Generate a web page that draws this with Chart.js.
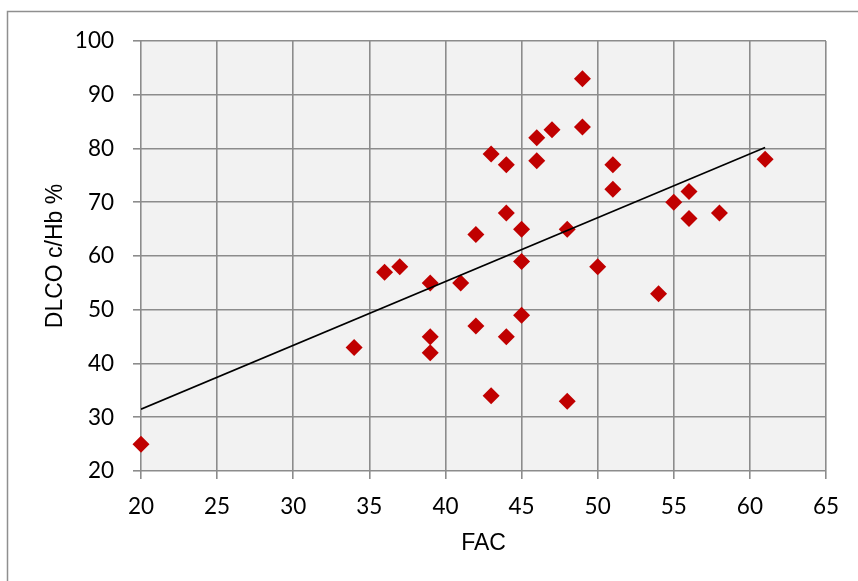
<!DOCTYPE html>
<html>
<head>
<meta charset="utf-8">
<script src="https://cdn.jsdelivr.net/npm/chart.js@4/dist/chart.umd.min.js"></script>
<style>
  html, body { margin: 0; padding: 0; background: #ffffff; }
  #wrap { width: 858px; height: 581px; position: relative; }
</style>
</head>
<body>
<div id="wrap"><canvas id="c" width="858" height="581"></canvas></div>
<script>
// FAC (%) against DLCO corrected for haemoglobin (% predicted)
const facValues = [20, 34, 36, 37, 39, 39, 39, 41, 42, 42, 43, 43, 44, 44, 44,
                   45, 45, 45, 46, 46, 47, 48, 48, 49, 49, 50, 51, 51, 54, 55, 56, 56, 58, 61];
const dlcoValues = [25, 43, 57, 58, 55, 45, 42, 55, 64, 47, 79, 34, 77, 68, 45,
                    65, 59, 49, 82, 77.7, 83.5, 65, 33, 93, 84, 58, 77, 72.4, 53, 70, 72, 67, 68, 78];
// linear trend line end points
const trendX = [20, 61];
const trendY = [31.5, 80.2];

const xTicks = [20, 25, 30, 35, 40, 45, 50, 55, 60, 65];
const yTicks = [20, 30, 40, 50, 60, 70, 80, 90, 100];

const points = facValues.map((x, i) => ({ x: x, y: dlcoValues[i] }));
const trend = trendX.map((x, i) => ({ x: x, y: trendY[i] }));

const GRID = '#8c8c8c';

// plot background and outer frame
const frame = {
  id: 'frame',
  beforeDraw(chart) {
    const { ctx, chartArea: a } = chart;
    ctx.save();
    ctx.fillStyle = '#ffffff';
    ctx.fillRect(0, 0, chart.width, chart.height);
    ctx.strokeStyle = '#8f8f8f';
    ctx.lineWidth = 1.5;
    ctx.strokeRect(7.5, 11.5, chart.width + 20, chart.height + 20);
    ctx.fillStyle = '#f2f2f2';
    ctx.fillRect(a.left, a.top, a.right - a.left, a.bottom - a.top);
    ctx.restore();
  }
};

new Chart(document.getElementById('c'), {
  type: 'scatter',
  data: {
    datasets: [
      {
        type: 'line',
        data: trend,
        borderColor: '#000000',
        borderWidth: 1.6,
        pointRadius: 0,
        fill: false,
        order: 0
      },
      {
        data: points,
        pointStyle: 'rectRot',
        pointRadius: 8.5,
        pointHoverRadius: 8.5,
        backgroundColor: '#c00000',
        borderColor: '#c00000',
        borderWidth: 0,
        clip: false,
        order: 1
      }
    ]
  },
  options: {
    responsive: false,
    animation: false,
    devicePixelRatio: 1,
    layout: { padding: { left: 0, top: 41, right: 32, bottom: 0 } },
    plugins: {
      legend: { display: false },
      tooltip: { enabled: false }
    },
    scales: {
      x: {
        type: 'linear',
        min: 20, max: 65,
        afterBuildTicks(scale) { scale.ticks = xTicks.map(v => ({ value: v })); },
        afterFit(scale) { scale.height = 110; },
        grid: { color: GRID, lineWidth: 1.6, tickLength: 8, drawTicks: true },
        border: { display: false },
        ticks: {
          padding: 14,
          color: '#000000',
          maxRotation: 0,
          font: { family: 'Lato', size: 22.5 }
        },
        title: {
          display: true,
          text: 'FAC',
          color: '#000000',
          font: { family: 'Liberation Sans', size: 23 },
          padding: { top: 0, bottom: 24 }
        }
      },
      y: {
        type: 'linear',
        min: 20, max: 100,
        afterBuildTicks(scale) { scale.ticks = yTicks.map(v => ({ value: v })); },
        afterFit(scale) { scale.width = 141; },
        grid: { color: GRID, lineWidth: 1.6, tickLength: 8, drawTicks: true },
        border: { display: false },
        ticks: {
          padding: 19,
          color: '#000000',
          font: { family: 'Lato', size: 22.5 }
        },
        title: {
          display: true,
          text: 'DLCO c/Hb %',
          color: '#000000',
          font: { family: 'Liberation Sans', size: 23 },
          padding: { top: 42, bottom: 0 }
        }
      }
    }
  },
  plugins: [frame]
});
</script>
</body>
</html>
